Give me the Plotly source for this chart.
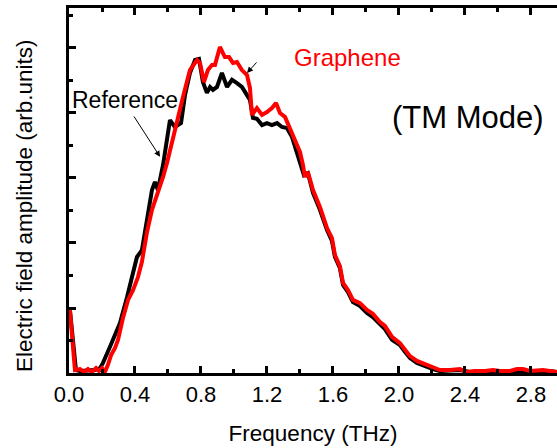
import plotly.graph_objects as go

# Frequency (THz) and normalized amplitude
ref_freq = [0.005, 0.024, 0.042, 0.067, 0.097, 0.127, 0.158, 0.188, 0.206, 0.248, 0.279, 0.309, 0.352, 0.382,
            0.412, 0.442, 0.479, 0.503, 0.521, 0.539, 0.570, 0.594, 0.612, 0.642, 0.679, 0.703, 0.733, 0.764,
            0.788, 0.812, 0.836, 0.855, 0.873, 0.897, 0.927, 0.958, 0.988, 1.018, 1.048, 1.079, 1.097, 1.115,
            1.139, 1.170, 1.200, 1.230, 1.261, 1.291, 1.321, 1.352, 1.382, 1.412, 1.424, 1.448, 1.479, 1.521,
            1.564, 1.594, 1.612, 1.642, 1.661, 1.691, 1.721, 1.764, 1.806, 1.842, 1.885, 1.915, 1.958, 2.006,
            2.036, 2.067, 2.109, 2.170, 2.206, 2.248, 2.309, 2.370, 2.430, 2.491, 2.552, 2.612, 2.673, 2.733,
            2.794, 2.855, 2.915, 2.958]
ref_amp = [0.197, 0.102, 0.009, 0.006, 0.006, 0.006, 0.009, 0.015, 0.031, 0.080, 0.117, 0.154, 0.234, 0.292,
           0.357, 0.378, 0.480, 0.563, 0.588, 0.563, 0.640, 0.717, 0.778, 0.757, 0.769, 0.855, 0.923, 0.963,
           0.966, 0.895, 0.862, 0.880, 0.871, 0.880, 0.923, 0.880, 0.902, 0.892, 0.880, 0.855, 0.840, 0.785,
           0.782, 0.763, 0.769, 0.763, 0.769, 0.757, 0.754, 0.726, 0.677, 0.634, 0.609, 0.615, 0.554, 0.502,
           0.440, 0.406, 0.357, 0.323, 0.271, 0.249, 0.218, 0.206, 0.185, 0.172, 0.148, 0.135, 0.102, 0.086,
           0.065, 0.046, 0.031, 0.018, 0.012, 0.006, 0.006, 0.009, 0.003, 0.006, 0.006, 0.006, 0.006, 0.009,
           0.006, 0.006, 0.006, 0.003]

gr_freq = [0.005, 0.024, 0.036, 0.067, 0.091, 0.115, 0.139, 0.164, 0.182, 0.200, 0.218, 0.236, 0.255, 0.279,
           0.297, 0.327, 0.358, 0.388, 0.418, 0.442, 0.473, 0.503, 0.539, 0.570, 0.594, 0.612, 0.655, 0.691,
           0.733, 0.776, 0.794, 0.818, 0.842, 0.867, 0.885, 0.915, 0.945, 0.970, 0.994, 1.018, 1.048, 1.079,
           1.097, 1.109, 1.139, 1.170, 1.200, 1.230, 1.255, 1.279, 1.309, 1.339, 1.370, 1.400, 1.418, 1.430,
           1.448, 1.479, 1.521, 1.564, 1.594, 1.612, 1.642, 1.661, 1.691, 1.721, 1.764, 1.806, 1.842, 1.885,
           1.915, 1.958, 2.006, 2.036, 2.067, 2.109, 2.170, 2.206, 2.248, 2.309, 2.370, 2.412, 2.461, 2.521,
           2.570, 2.612, 2.673, 2.715, 2.752, 2.794, 2.836, 2.873, 2.915, 2.958]
gr_amp = [0.197, 0.071, 0.009, 0.012, 0.003, 0.012, 0.003, 0.015, 0.006, 0.015, 0.003, 0.025, 0.055, 0.077,
          0.102, 0.169, 0.225, 0.255, 0.295, 0.342, 0.434, 0.502, 0.554, 0.603, 0.646, 0.686, 0.778, 0.849,
          0.932, 0.963, 0.954, 0.895, 0.932, 0.948, 0.948, 1.003, 0.972, 0.972, 0.954, 0.957, 0.932, 0.917,
          0.877, 0.794, 0.815, 0.794, 0.803, 0.815, 0.831, 0.800, 0.788, 0.754, 0.717, 0.680, 0.640, 0.603,
          0.618, 0.563, 0.511, 0.446, 0.415, 0.363, 0.329, 0.277, 0.255, 0.225, 0.215, 0.194, 0.182, 0.157,
          0.145, 0.111, 0.092, 0.071, 0.052, 0.037, 0.025, 0.015, 0.009, 0.009, 0.012, 0.003, 0.006, 0.006,
          0.009, 0.006, 0.006, 0.012, 0.012, 0.006, 0.009, 0.009, 0.006, 0.003]

x_ticks = [0.0, 0.4, 0.8, 1.2, 1.6, 2.0, 2.4, 2.8]
x_tick_labels = ["0.0", "0.4", "0.8", "1.2", "1.6", "2.0", "2.4", "2.8"]

FONT = "Liberation Sans, Arial, sans-serif"

fig = go.Figure()
fig.add_trace(go.Scatter(x=ref_freq, y=ref_amp, mode="lines", name="Reference",
                         line=dict(color="black", width=4), showlegend=False))
fig.add_trace(go.Scatter(x=gr_freq, y=gr_amp, mode="lines", name="Graphene",
                         line=dict(color="#ff0000", width=4), showlegend=False))

fig.update_layout(
    width=557, height=448,
    margin=dict(l=69, r=0, t=8, b=75),
    plot_bgcolor="white", paper_bgcolor="white",
    font=dict(family=FONT, color="black", size=22),
    xaxis=dict(range=[0, 2.958], tickmode="array", tickvals=x_ticks, ticktext=x_tick_labels,
               ticks="inside", ticklen=7, tickwidth=2.5, tickcolor="black",
               minor=dict(dtick=0.2, tick0=0, ticks="inside", ticklen=4, tickwidth=2.5, tickcolor="black"),
               showline=True, linewidth=3, linecolor="black", mirror="ticks",
               showgrid=False, zeroline=False,
               tickfont=dict(size=22),
               title=dict(text="Frequency (THz)", font=dict(size=22.5), standoff=19)),
    yaxis=dict(range=[0, 1.123], dtick=0.2, tick0=0,
               ticks="inside", ticklen=7, tickwidth=2.5, tickcolor="black",
               minor=dict(dtick=0.1, ticks="inside", ticklen=4, tickwidth=2.5, tickcolor="black"),
               showline=True, linewidth=3, linecolor="black", mirror=False,
               showticklabels=False, showgrid=False, zeroline=False),
)

fig.add_annotation(text="Electric field amplitude (arb.units)", xref="paper", yref="paper",
                   x=-0.092, y=0.4575, textangle=-90, showarrow=False,
                   font=dict(size=22.5, color="black"), xanchor="center", yanchor="middle")
fig.add_annotation(text="Reference", x=0.339, y=0.840, showarrow=False,
                   font=dict(size=23, color="black"))
fig.add_annotation(text="Graphene", x=1.691, y=0.972, showarrow=False,
                   font=dict(size=24, color="#ff0000"))
fig.add_annotation(text="(TM Mode)", x=2.418, y=0.785, showarrow=False,
                   font=dict(size=31, color="black"))
# arrows
fig.add_annotation(x=0.552, y=0.665, ax=0.388, ay=0.794, axref="x", ayref="y", text="",
                   showarrow=True, arrowhead=2, arrowsize=1.2, arrowwidth=1, arrowcolor="black")
fig.add_annotation(x=1.079, y=0.923, ax=1.145, ay=0.960, axref="x", ayref="y", text="",
                   showarrow=True, arrowhead=2, arrowsize=1.2, arrowwidth=1, arrowcolor="black")

fig.write_html("out.html")
